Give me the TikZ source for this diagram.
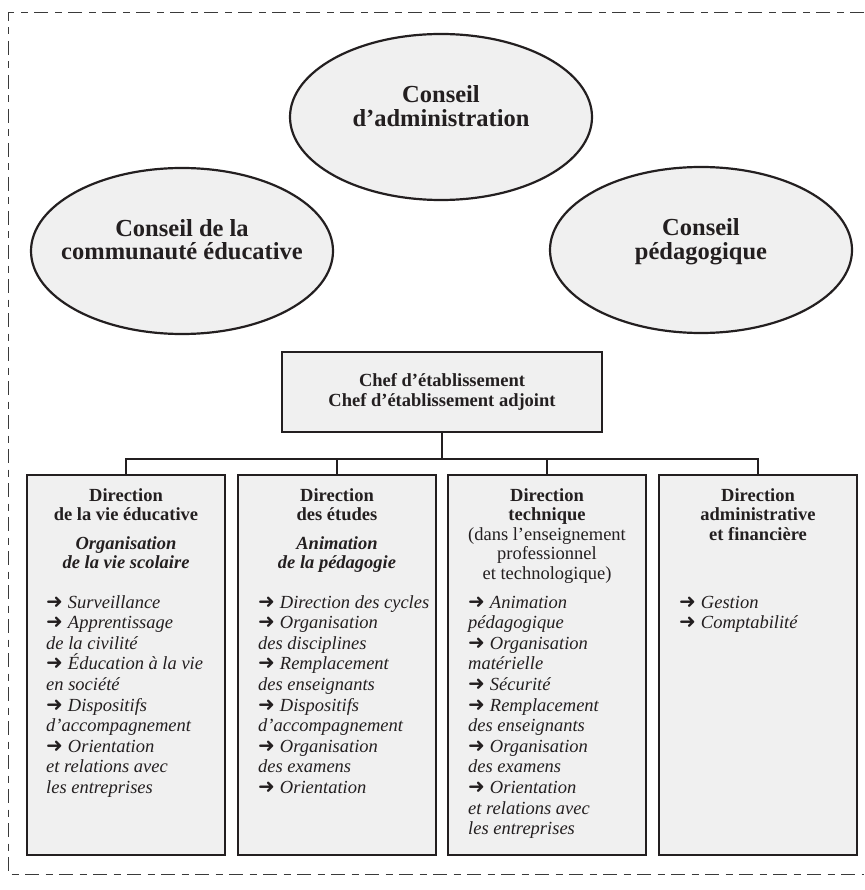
\documentclass[tikz,border=0pt]{standalone}
\usepackage{fontspec}
\setmainfont{Liberation Serif}
\newfontfamily\dejavu{DejaVu Sans}
\usetikzlibrary{shapes.geometric}
\definecolor{boxfill}{HTML}{F0F0F0}
\definecolor{ink}{HTML}{231F20}
\definecolor{framecol}{HTML}{3A3A3A}
\newcommand{\arr}{{\dejavu\upshape\fontsize{20}{14}\selectfont ➜}\hspace{5pt}}
\tikzset{
  council/.style={ellipse, draw=ink, fill=boxfill, line width=2.2pt, minimum width=302pt, minimum height=166pt, inner sep=0pt},
  counciltext/.style={anchor=base, align=center, font=\bfseries\fontsize{24.5}{24}\selectfont, text=ink},
  chefbox/.style={rectangle, draw=ink, fill=boxfill, line width=2.8pt, minimum width=320pt, minimum height=80pt, align=center, font=\bfseries\fontsize{18.5}{20}\selectfont, text=ink},
  dirbox/.style={rectangle, draw=ink, fill=boxfill, line width=2.8pt, minimum width=198pt, minimum height=380pt, inner sep=0pt},
  headtext/.style={anchor=base, align=center, font=\fontsize{18.5}{19.5}\selectfont, text=ink, inner sep=0pt},
  listtext/.style={anchor=base west, align=left, font=\itshape\fontsize{18.5}{20.6}\selectfont, text=ink, inner sep=0pt},
  link/.style={draw=ink, line width=2.8pt},
  frameline/.style={draw=framecol, line width=1pt, dash pattern=on 14pt off 6.5pt on 7pt off 6.5pt}
}
\begin{document}
\begin{tikzpicture}[x=1pt, y=-1pt]
\useasboundingbox (0,0) rectangle (864,890);
\draw[frameline] (864,13) -- (8,13) -- (8,874) -- (864,874);

% councils (base anchor = last line baseline)
\node[council] (ca) at (441,117) {};
\node[counciltext] (catext) at (441,127) {Conseil\\d’administration};
\node[council] (cce) at (182,251) {};
\node[counciltext] (ccetext) at (182,260) {Conseil de la\\communauté éducative};
\node[council] (cp) at (701,250) {};
\node[counciltext] (cptext) at (701,259) {Conseil\\pédagogique};

% chef
\node[chefbox] (chef) at (442,392) {Chef d’établissement\\Chef d’établissement adjoint};

% direction boxes
\node[dirbox] (d1) at (126,665) {};
\node[dirbox] (d2) at (337,665) {};
\node[dirbox] (d3) at (547,665) {};
\node[dirbox] (d4) at (758,665) {};

% connectors
\coordinate (bus) at (442,459);
\draw[link] (chef.south) -- (bus);
\draw[link] (d1.north) |- (bus) -| (d4.north);
\draw[link] (d2.north) -- (d2.north |- bus);
\draw[link] (d3.north) -- (d3.north |- bus);

% column 1
\node[headtext, font=\bfseries\fontsize{18.5}{19.5}\selectfont] (h1) at (126,520.5) {Direction\\de la vie éducative};
\node[headtext, font=\bfseries\itshape\fontsize{18.5}{19.5}\selectfont] (s1) at (126,568.5) {Organisation\\de la vie scolaire};
\node[listtext] (l1) at (46,793.4) {\arr Surveillance\\\arr Apprentissage\\de la civilité\\\arr Éducation à la vie\\en société\\\arr Dispositifs\\d’accompagnement\\\arr Orientation\\et relations avec\\les entreprises};

% column 2
\node[headtext, font=\bfseries\fontsize{18.5}{19.5}\selectfont] (h2) at (337,520.5) {Direction\\des études};
\node[headtext, font=\bfseries\itshape\fontsize{18.5}{19.5}\selectfont] (s2) at (337,568.5) {Animation\\de la pédagogie};
\node[listtext] (l2) at (258,793.4) {\arr Direction des cycles\\\arr Organisation\\des disciplines\\\arr Remplacement\\des enseignants\\\arr Dispositifs\\d’accompagnement\\\arr Organisation\\des examens\\\arr Orientation};

% column 3
\node[headtext] (h3) at (547,579) {\textbf{Direction}\\\textbf{technique}\\(dans l’enseignement\\professionnel\\et technologique)};
\node[listtext] (l3) at (468,834.6) {\arr Animation\\pédagogique\\\arr Organisation\\matérielle\\\arr Sécurité\\\arr Remplacement\\des enseignants\\\arr Organisation\\des examens\\\arr Orientation\\et relations avec\\les entreprises};

% column 4
\node[headtext, font=\bfseries\fontsize{18.5}{19.5}\selectfont] (h4) at (758,540) {Direction\\administrative\\et financière};
\node[listtext] (l4) at (679,628.6) {\arr Gestion\\\arr Comptabilité};
\end{tikzpicture}
\end{document}
